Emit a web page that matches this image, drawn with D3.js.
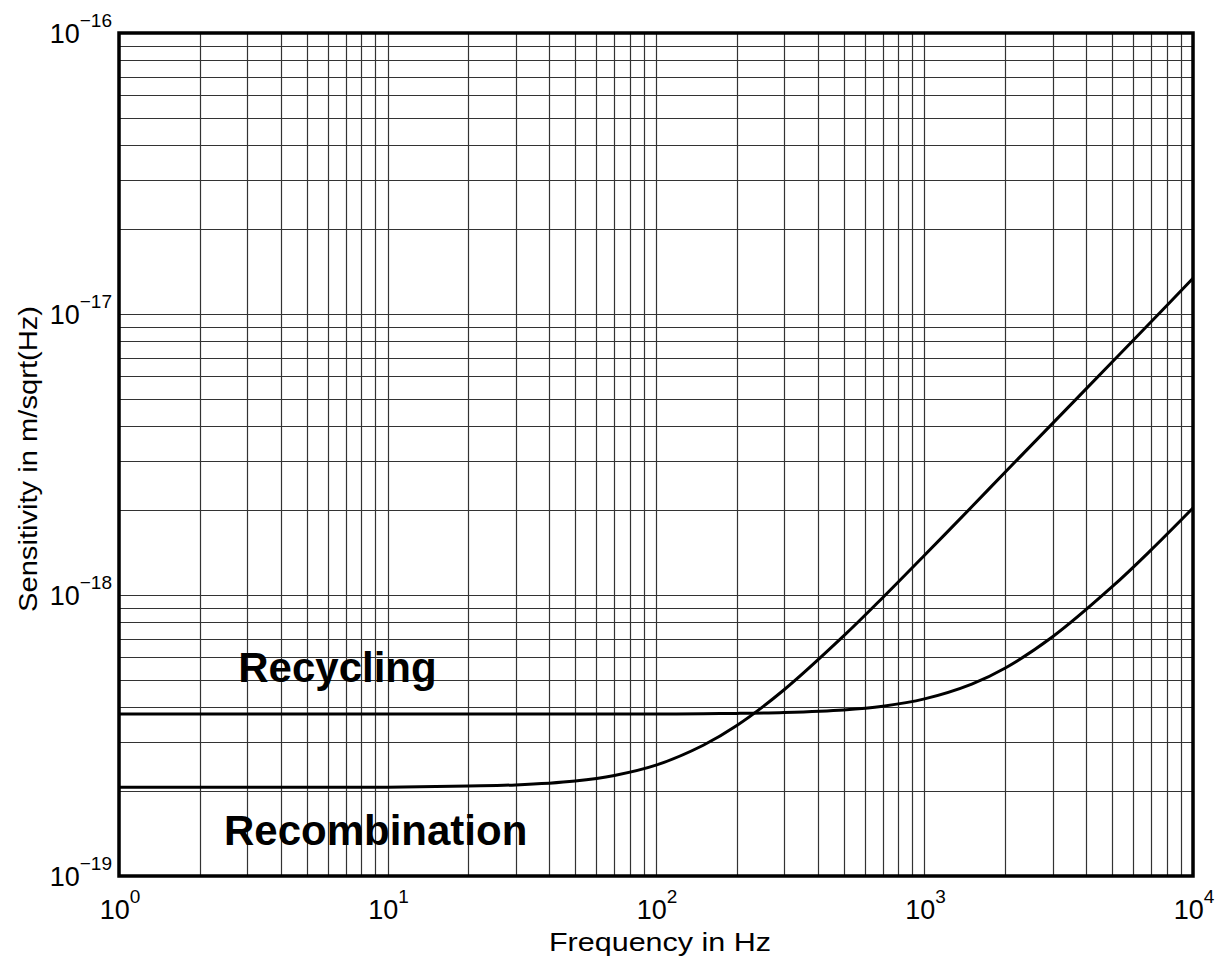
<!doctype html>
<html>
<head>
<meta charset="utf-8"/>
<title>Sensitivity</title>
<script src="https://d3js.org/d3.v7.min.js"></script>
<style>
  body { margin: 0; background: #fff; }
  text { font-family: "Liberation Sans", Arial, Helvetica, sans-serif; fill: #000; }
</style>
</head>
<body>
<div id="chart"></div>
<script>
// frequencies in Hz where the curves were read
var freq = [1, 3, 10, 20, 30, 50, 70, 100, 150, 200, 300, 500, 700,
            1000, 1500, 2000, 3000, 5000, 7000, 10000];

// sensitivity in m/sqrt(Hz)
var recombination = [2.07e-19, 2.07e-19, 2.07e-19, 2.09e-19, 2.11e-19, 2.18e-19, 2.28e-19,
                     2.48e-19, 2.92e-19, 3.43e-19, 4.6e-19, 7.15e-19, 9.8e-19,
                     1.385e-18, 2.06e-18, 2.74e-18, 4.08e-18, 6.75e-18, 9.4e-18, 1.34e-17];

var recycling = [3.77e-19, 3.77e-19, 3.77e-19, 3.77e-19, 3.77e-19, 3.77e-19, 3.77e-19,
                 3.77e-19, 3.78e-19, 3.79e-19, 3.82e-19, 3.9e-19, 4.02e-19,
                 4.27e-19, 4.82e-19, 5.5e-19, 7.1e-19, 1.07e-18, 1.45e-18, 2.04e-18];

var xExponents = [0, 1, 2, 3, 4];
var yExponents = [-19, -18, -17, -16];

var curveLabels = [
  { name: "Recycling", f: 2.78, s: 4.9e-19 },
  { name: "Recombination", f: 2.46, s: 1.29e-19 }
];

var W = 1222, H = 960;
var pL = 119, pR = 1193, pT = 33, pB = 876;

var svg = d3.select("#chart")
  .append("svg")
  .attr("width", W)
  .attr("height", H);

var x = d3.scaleLog().domain([1, 1e4]).range([pL, pR]);
var y = d3.scaleLog().domain([1e-19, 1e-16]).range([pB, pT]);

// grid: every 1..9 of each decade
var xGrid = [];
for (var e = 0; e < 4; e++) for (var m = 1; m < 10; m++) xGrid.push(m * Math.pow(10, e));
xGrid.push(1e4);
var yGrid = [];
for (var e2 = -19; e2 < -16; e2++) for (var m2 = 1; m2 < 10; m2++) yGrid.push(m2 * Math.pow(10, e2));
yGrid.push(1e-16);

var grid = svg.append("g").attr("stroke", "#333").attr("stroke-width", 1.2);
grid.selectAll("line.v").data(xGrid).enter().append("line")
  .attr("class", "v")
  .attr("x1", function(d) { return Math.round(x(d)) + 0.5; })
  .attr("x2", function(d) { return Math.round(x(d)) + 0.5; })
  .attr("y1", pT).attr("y2", pB);
grid.selectAll("line.h").data(yGrid).enter().append("line")
  .attr("class", "h")
  .attr("y1", function(d) { return Math.round(y(d)) + 0.5; })
  .attr("y2", function(d) { return Math.round(y(d)) + 0.5; })
  .attr("x1", pL).attr("x2", pR);

// curves
var line = d3.line()
  .x(function(d) { return x(d[0]); })
  .y(function(d) { return y(d[1]); })
  .curve(d3.curveCatmullRom.alpha(0.5));

[recombination, recycling].forEach(function(s) {
  svg.append("path")
    .attr("d", line(freq.map(function(f, i) { return [f, s[i]]; })))
    .attr("fill", "none")
    .attr("stroke", "#000")
    .attr("stroke-width", 3);
});

// frame
svg.append("rect")
  .attr("x", pL).attr("y", pT)
  .attr("width", pR - pL).attr("height", pB - pT)
  .attr("fill", "none").attr("stroke", "#000").attr("stroke-width", 3.5);

// tick labels
function powLabel(sel, exp) {
  sel.append("tspan").text("10");
  sel.append("tspan")
    .attr("dy", -16)
    .attr("font-size", 19)
    .text(String(exp).replace("-", "\u2212"));
}

xExponents.forEach(function(k) {
  var t = svg.append("text")
    .attr("x", x(Math.pow(10, k)) + 1)
    .attr("y", pB + 43)
    .attr("text-anchor", "middle")
    .attr("font-size", 27);
  powLabel(t, k);
});

yExponents.forEach(function(k) {
  var t = svg.append("text")
    .attr("x", 112)
    .attr("y", y(Math.pow(10, k)) + 10)
    .attr("text-anchor", "end")
    .attr("font-size", 27);
  powLabel(t, k);
});

// axis titles
svg.append("text")
  .attr("x", (pL + pR) / 2 + 4)
  .attr("y", 951)
  .attr("text-anchor", "middle")
  .attr("font-size", 26)
  .attr("textLength", 222)
  .attr("lengthAdjust", "spacingAndGlyphs")
  .text("Frequency in Hz");

svg.append("text")
  .attr("transform", "translate(37,459) rotate(-90)")
  .attr("text-anchor", "middle")
  .attr("font-size", 26)
  .attr("textLength", 306)
  .attr("lengthAdjust", "spacingAndGlyphs")
  .text("Sensitivity in m/sqrt(Hz)");

// curve labels
svg.selectAll("text.lab").data(curveLabels).enter().append("text")
  .attr("class", "lab")
  .attr("x", function(d) { return x(d.f); })
  .attr("y", function(d) { return y(d.s); })
  .attr("font-size", 42)
  .attr("font-weight", "bold")
  .text(function(d) { return d.name; });
</script>
</body>
</html>
